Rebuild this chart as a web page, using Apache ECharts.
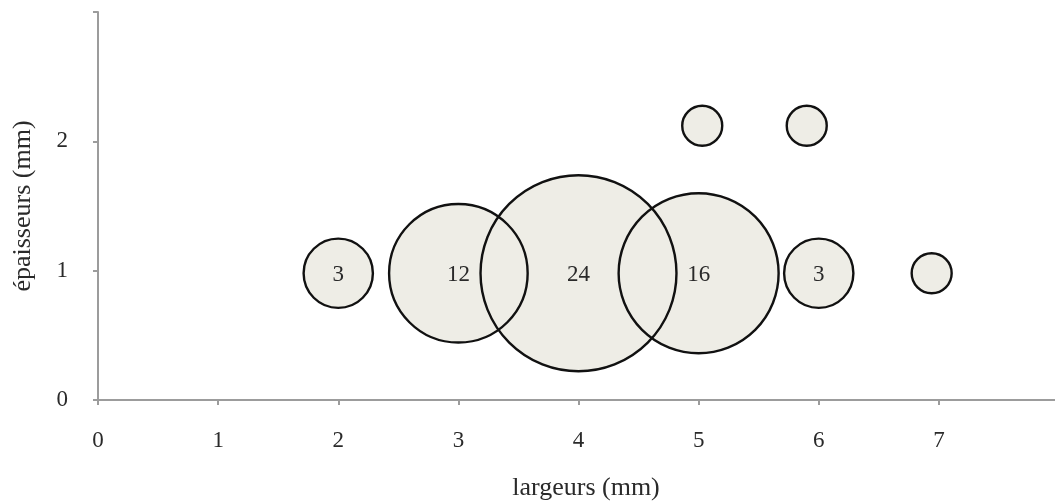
<!DOCTYPE html>
<html>
<head>
<meta charset="utf-8">
<script src="https://cdn.jsdelivr.net/npm/echarts@6/dist/echarts.min.js"></script>
<style>html,body{margin:0;padding:0;background:#fff}#c{width:1055px;height:502px}</style>
</head>
<body>
<div id="c"></div>
<script>
// largeurs (mm)
const largeurs = [2, 3, 4, 5, 6, 6.94, 5.03, 5.9];
// épaisseurs (mm)
const epaisseurs = [0.98, 0.98, 0.98, 0.98, 0.98, 0.98, 2.12, 2.12];
// effectifs
const effectifs = [3, 12, 24, 16, 3, 1, 1, 1];
const etiquettes = ['3', '12', '24', '16', '3', '', '', ''];
const xTicks = [0, 1, 2, 3, 4, 5, 6, 7];
const yTicks = [0, 1, 2];

const FONT = '"Liberation Serif", "DejaVu Serif", serif';
const pts = largeurs.map((x, i) => [x, epaisseurs[i], effectifs[i], etiquettes[i]]);
const sizeFn = v => 40 * Math.sqrt(v[2]);

const chart = echarts.init(document.getElementById('c'), null, {renderer: 'canvas'});
chart.setOption({
  animation: false,
  backgroundColor: '#fff',
  grid: {left: 98, top: 12, width: 961, bottom: 102, containLabel: false, outerBoundsMode: 'none'},
  xAxis: {
    type: 'value', min: 0, max: 8, interval: 1,
    name: 'largeurs (mm)', nameLocation: 'middle', nameGap: 75,
    nameTextStyle: {fontFamily: FONT, fontSize: 26, color: '#2a2a2a', padding: [0, 0, 0, 15]},
    axisLine: {show: true, lineStyle: {color: '#9c9c9c', width: 2}},
    axisTick: {show: true, length: 5, lineStyle: {color: '#9c9c9c', width: 2}, customValues: xTicks},
    axisLabel: {fontFamily: FONT, fontSize: 23, color: '#2a2a2a', margin: 29, customValues: xTicks},
    splitLine: {show: false}
  },
  yAxis: {
    type: 'value', min: 0, max: 3, interval: 1,
    name: 'épaisseurs (mm)', nameLocation: 'middle', nameGap: 62,
    nameTextStyle: {fontFamily: FONT, fontSize: 26, color: '#2a2a2a'},
    axisLine: {show: true, lineStyle: {color: '#9c9c9c', width: 2}},
    axisTick: {show: true, length: 5, lineStyle: {color: '#9c9c9c', width: 2}},
    axisLabel: {fontFamily: FONT, fontSize: 23, color: '#2a2a2a', margin: 30, customValues: yTicks},
    splitLine: {show: false}
  },
  series: [
    {
      type: 'scatter', data: pts, symbolSize: sizeFn,
      itemStyle: {color: '#eeede6', opacity: 1, borderWidth: 0},
      silent: true, z: 2
    },
    {
      type: 'scatter', data: pts, symbolSize: sizeFn,
      itemStyle: {color: 'rgba(0,0,0,0)', opacity: 1, borderColor: '#111', borderWidth: 2.4},
      label: {show: true, position: 'inside', formatter: p => p.data[3],
        fontFamily: FONT, fontSize: 23, color: '#2a2a2a', offset: [0, 2]},
      silent: true, z: 3
    }
  ]
});
</script>
</body>
</html>
